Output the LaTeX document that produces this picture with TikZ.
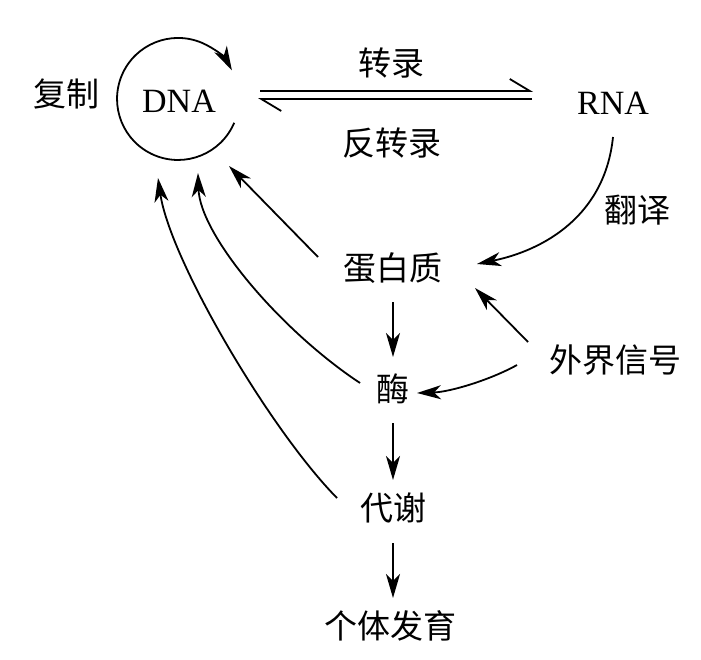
\documentclass[tikz,border=0pt]{standalone}
\usepackage{fontspec}
\setmainfont{Liberation Serif}
\newfontfamily\cjk{Noto Sans CJK SC}
\usetikzlibrary{arrows.meta}
\begin{document}
\begin{tikzpicture}[x=1pt,y=-1pt,
  txt/.style={inner sep=0pt,font=\fontsize{34}{38}\selectfont},
  ctxt/.style={inner sep=0pt,font=\cjk\fontsize{33}{38}\selectfont},
  arr/.style={line width=1.8pt,-{Stealth[length=24pt,width=14pt,inset=7pt]}},
  harp/.style={line width=1.8pt,-{Straight Barb[harpoon,length=20pt,width=24pt]}}]
\useasboundingbox (0,0) rectangle (701,660);
\node[txt] (dna) at (179,101) {DNA};
\node[txt] (rna) at (613,103) {RNA};
\node[ctxt] (fz) at (66,94) {复制};
\node[ctxt] (zl) at (391,63) {转录};
\node[ctxt] (fzl) at (392,143) {反转录};
\node[ctxt] (fy) at (637,210) {翻译};
\node[ctxt] (pro) at (393,268) {蛋白质};
\node[ctxt] (mei) at (393,389) {酶};
\node[ctxt] (dx) at (393,508) {代谢};
\node[ctxt] (gt) at (390,626) {个体发育};
\node[ctxt] (wj) at (615,360) {外界信号};
% replication loop
\draw[arr] ([shift={(55.2,21.8)}]dna.center) arc[start angle=23,end angle=332,radius=61];
% transcription / reverse transcription
\draw[harp] ([shift={(81,-10)}]dna.center) -- ([shift={(-80,-12)}]rna.center);
\draw[harp] ([shift={(-81,-4)}]rna.center) -- ([shift={(79,-2)}]dna.center);
% translation
\draw[arr] ([shift={(0,34)}]rna.center) .. controls (605,215) and (545,250) .. ([shift={(84,-4)}]pro.center);
% to DNA
\draw[arr] ([shift={(-75,-11)}]pro.center) -- ([shift={(50,65)}]dna.center);
\draw[arr] ([shift={(-33,-6)}]mei.center) .. controls (280,330) and (200,235) .. ([shift={(19,72)}]dna.center);
\draw[arr] ([shift={(-56,-10)}]dx.center) .. controls (270,430) and (170,260) .. ([shift={(-21,77)}]dna.center);
% external signal
\draw[arr] ([shift={(-87,-18)}]wj.center) -- ([shift={(82,20)}]pro.center);
\draw[arr] ([shift={(-98,5)}]wj.center) .. controls (490,380) and (450,392) .. ([shift={(24,4)}]mei.center);
% vertical chain
\draw[arr] ([shift={(0,34)}]pro.center) -- ([shift={(0,-32)}]mei.center);
\draw[arr] ([shift={(0,34)}]mei.center) -- ([shift={(0,-28)}]dx.center);
\draw[arr] ([shift={(0,35)}]dx.center) -- ([shift={(3,-28)}]gt.center);
\end{tikzpicture}
\end{document}
